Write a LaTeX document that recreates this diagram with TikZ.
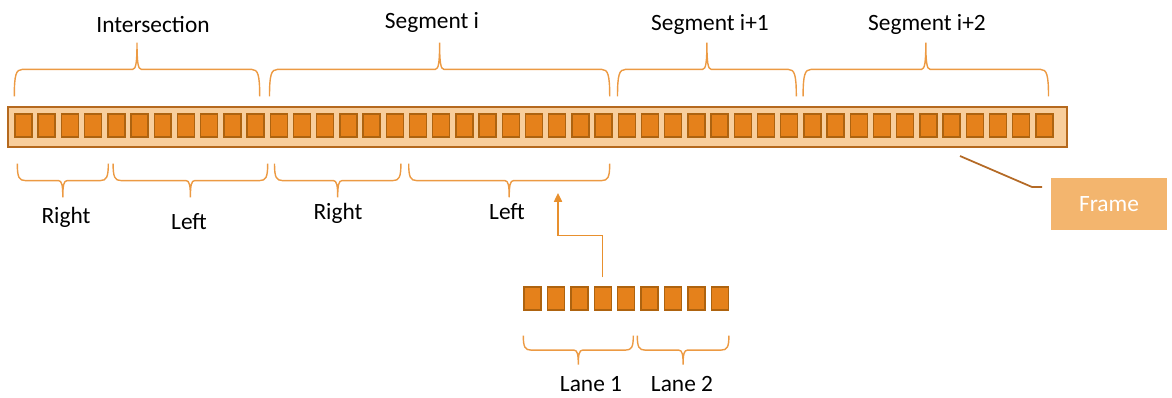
\documentclass[tikz,border=0pt]{standalone}
\usepackage{fontspec}
\setmainfont{Carlito}
\usepackage{xcolor}
\usepackage{tikz}
\usetikzlibrary{arrows.meta,positioning,calc}

\definecolor{cellfill}{HTML}{E5811B}
\definecolor{cellline}{HTML}{AE630F}
\definecolor{barfill}{HTML}{F8CE9C}
\definecolor{barline}{HTML}{B5691E}
\definecolor{bracecol}{HTML}{EC9A43}
\definecolor{framefill}{HTML}{F3B56E}
\definecolor{arrowcol}{HTML}{E8902E}
\definecolor{callcol}{HTML}{B46A26}

\begin{document}
\begin{tikzpicture}[
    x=0.02cm, y=-0.02cm,
    tag/.style={font=\fontsize{13.3}{16}\selectfont, text=black, inner sep=0pt},
    framebar/.style={rectangle, draw=barline, fill=barfill, line width=1pt, minimum width=21.18cm, minimum height=0.8cm, inner sep=0pt},
    cell/.style={rectangle, draw=cellline, fill=cellfill, line width=0.8pt, minimum width=0.34cm, minimum height=0.46cm, inner sep=0pt},
    framebox/.style={rectangle, fill=framefill, text=white, font=\fontsize{13.3}{16}\selectfont, minimum width=2.32cm, minimum height=1.04cm, inner sep=0pt},
    curly/.style={draw=bracecol, line width=0.8pt, to path={
        let \p1=(\tikztostart), \p2=(\tikztotarget), \p3=($(\p1)!0.5!(\p2)$) in
        .. controls (\x1,{\y1+0.8*(#1)}) and ({\x1+1pt},{\y1+#1}) .. ({\x1+4.5pt},{\y1+#1})
        -- ({\x3-2.5pt},{\y1+#1})
        .. controls ({\x3-0.5pt},{\y1+#1}) and (\x3,{\y1+1.3*(#1)}) .. (\x3,{\y1+2*(#1)})
        .. controls (\x3,{\y1+1.3*(#1)}) and ({\x3+0.5pt},{\y1+#1}) .. ({\x3+2.5pt},{\y1+#1})
        -- ({\x2-4.5pt},{\y1+#1})
        .. controls ({\x2-1pt},{\y1+#1}) and (\x2,{\y1+0.8*(#1)}) .. (\x2,\y2)}},
    arrow/.style={-{Triangle[length=5pt,width=4.6pt]},draw=arrowcol,line width=0.85pt},
    callout/.style={draw=callcol,line width=1pt}
]
\useasboundingbox (0,0) rectangle (1172,397);

% Frame bar
\node[framebar] (bar) at (537.5,127) {};
\foreach \i in {0,...,44}
    \node[cell] (c\i) at ({23.5+23.2*\i},125.5) {};

% Lane slots
\foreach \i in {0,...,8}
    \node[cell] (s\i) at ({532.5+23.4*\i},298.5) {};

% Braces above the frame
\draw[curly=15.3pt] ([yshift=0.34cm]c0.north west) to ([yshift=0.34cm,xshift=-0.1cm]c10.north east);
\draw[curly=15.3pt] ([yshift=0.34cm]c11.north west) to ([yshift=0.34cm,xshift=-0.06cm]c25.north east);
\draw[curly=15.3pt] ([yshift=0.34cm]c26.north west) to ([yshift=0.34cm,xshift=-0.04cm]c33.north east);
\draw[curly=15.3pt] ([yshift=0.34cm]c34.north west) to ([yshift=0.34cm,xshift=-0.1cm]c44.north east);

% Braces below the frame
\draw[curly=-9.6pt] ([yshift=-0.52cm,xshift=0.06cm]c0.south west) to ([yshift=-0.52cm,xshift=0.12cm]c3.south east);
\draw[curly=-9.6pt] ([yshift=-0.52cm,xshift=0.12cm]c4.south west) to ([yshift=-0.52cm,xshift=0.06cm]c10.south east);
\draw[curly=-9.6pt] ([yshift=-0.52cm,xshift=0.1cm]c11.south west) to ([yshift=-0.52cm,xshift=-0.06cm]c16.south east);
\draw[curly=-9.6pt] ([yshift=-0.52cm]c17.south west) to ([yshift=-0.52cm,xshift=-0.06cm]c25.south east);

% Lane braces
\draw[curly=-8.2pt] ([yshift=-0.5cm]s0.south west) to ([yshift=-0.5cm,xshift=-0.04cm]s4.south east);
\draw[curly=-8.2pt] ([yshift=-0.5cm,xshift=-0.06cm]s5.south west) to ([yshift=-0.5cm]s8.south east);

% Labels
\node[tag] (intersection) at (153,25) {Intersection};
\node[tag] (segi) at (432,22) {Segment i};
\node[tag] (segii) at (710,24) {Segment i+1};
\node[tag] (segiii) at (927,24) {Segment i+2};
\node[tag] (right1) at (66,217) {Right};
\node[tag] (left1) at (189,222) {Left};
\node[tag] (right2) at (338,213) {Right};
\node[tag] (left2) at (507,212) {Left};
\node[tag] (lane1) at (591,384) {Lane 1};
\node[tag] (lane2) at (682,384) {Lane 2};

% Frame callout
\node[framebox] (frame) at (1109,204) {Frame};
\coordinate (callstart) at (960,156);
\coordinate (callend) at (1042,187);
\draw[callout] (callstart) -- (1032,187) -- (callend);

% Lane into segment
\coordinate (lanein) at (558,193);
\draw[arrow] ([yshift=0.18cm]s3.north) -- ++(0,-42) -| (lanein);

\end{tikzpicture}
\end{document}
